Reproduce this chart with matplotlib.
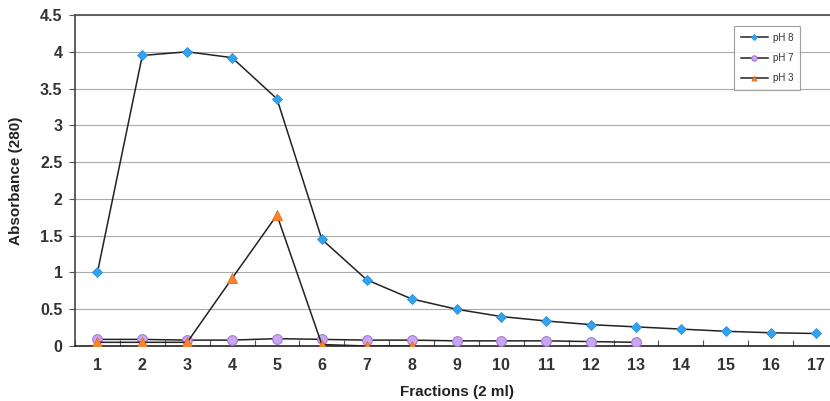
import numpy as np
import matplotlib.pyplot as plt

## data
fractions_ph8 = list(range(1, 18))
ph8 = [1.0, 3.95, 4.0, 3.92, 3.36, 1.45, 0.9, 0.64, 0.5, 0.4, 0.34, 0.29, 0.26, 0.23, 0.2, 0.18, 0.17]
fractions_ph7 = list(range(1, 14))
ph7 = [0.09, 0.09, 0.08, 0.08, 0.1, 0.09, 0.08, 0.08, 0.07, 0.07, 0.07, 0.06, 0.05]
fractions_ph3 = list(range(1, 9))
ph3 = [0.05, 0.05, 0.05, 0.92, 1.78, 0.02, 0.0, 0.0]

plt.rcParams['font.family'] = ['Liberation Sans', 'DejaVu Sans']

W, H = 830, 401
fig = plt.figure(figsize=[W / 100, H / 100], dpi=100)
ax = fig.add_axes([75 / W, (H - 346) / H, (838 - 75) / W, (346 - 15) / H])

ax.plot(fractions_ph8, ph8, color='#222222', lw=1.1, marker='D', ms=5.5,
        mfc='#33A3F0', mec='#2b8fe0', mew=0.6, label='pH 8', zorder=4)
ax.plot(fractions_ph7, ph7, color='#222222', lw=1.1, marker='o', ms=7,
        mfc='#C9A6F2', mec='#a57ad8', mew=0.8, label='pH 7', zorder=3)
ax.plot(fractions_ph3, ph3, color='#222222', lw=1.1, marker='^', ms=6.5,
        mfc='#F7852F', mec='#e86a1a', mew=0.6, label='pH 3', zorder=5)

ax.set_xlim(0.5, 17.5)
ax.set_ylim(0, 4.5)
ax.set_yticks(np.arange(0, 4.51, 0.5))
ax.set_yticklabels(['0', '0.5', '1', '1.5', '2', '2.5', '3', '3.5', '4', '4.5'])
ax.set_xticks(range(1, 18))
ax.set_xticks(np.arange(0.5, 17.6, 1), minor=True)
ax.tick_params(axis='x', which='major', length=0, pad=9, labelsize=11.5, labelcolor='#333333')
ax.tick_params(axis='x', which='minor', length=4, width=0.8, direction='in', color='#555555')
ax.tick_params(axis='y', length=4, width=0.8, labelsize=11.5, pad=5, labelcolor='#333333', color='#555555')
for lbl in ax.get_xticklabels() + ax.get_yticklabels():
    lbl.set_fontweight('bold')
ax.yaxis.grid(True, color='#aaaaaa', lw=0.8)
ax.set_axisbelow(True)

ax.spines['right'].set_visible(False)
ax.spines['top'].set_color('#555555')
ax.spines['top'].set_linewidth(1.3)
ax.spines['left'].set_color('#444444')
ax.spines['left'].set_linewidth(1.2)
ax.spines['bottom'].set_color('#222222')
ax.spines['bottom'].set_linewidth(1.2)

ax.set_xlabel('Fractions (2 ml)', fontsize=11, fontweight='bold', labelpad=8, color='#222222')
ax.set_ylabel('Absorbance (280)', fontsize=11, fontweight='bold', labelpad=12, color='#222222')

leg = ax.legend(loc='upper left', bbox_to_anchor=(734 / W, 1 - 26 / H), bbox_transform=fig.transFigure,
                fontsize=7, frameon=True, fancybox=False, edgecolor='#888888',
                handlelength=2.8, handletextpad=0.5, markerscale=0.55, labelspacing=1.05,
                borderpad=0.7, borderaxespad=0)
leg.get_frame().set_linewidth(0.8)
for t in leg.get_texts():
    t.set_color('#333333')

fig.savefig('out.png', dpi=100)
